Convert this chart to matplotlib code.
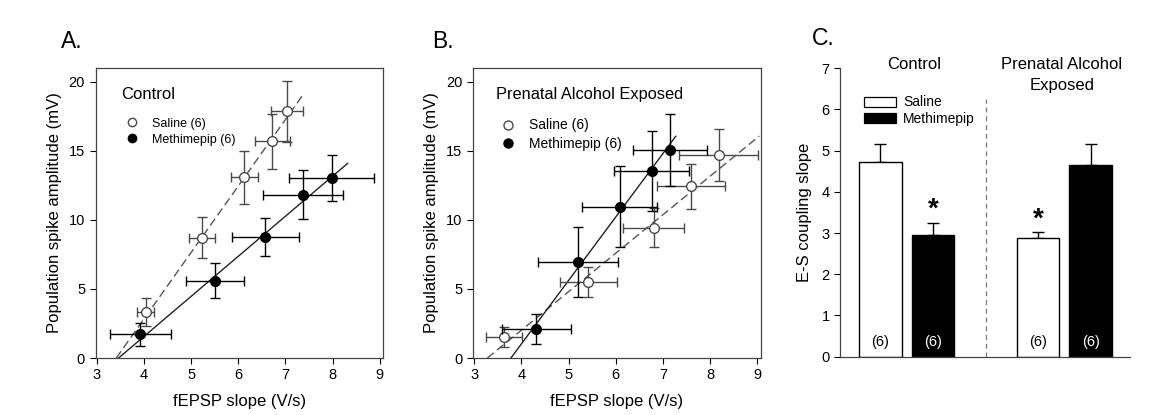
import numpy as np
import matplotlib
matplotlib.use("Agg")
import matplotlib.pyplot as plt
from matplotlib.lines import Line2D
from matplotlib.patches import Patch

plt.rcParams['font.family'] = ['Liberation Sans', 'DejaVu Sans']

# ---- panel A: control ----
a_sal_x = [4.04, 5.23, 6.13, 6.72, 7.04]
a_sal_y = [3.34, 8.72, 13.08, 15.69, 17.87]
a_sal_xerr = [0.18, 0.27, 0.28, 0.37, 0.34]
a_sal_yerr = [1.0, 1.5, 1.9, 2.0, 2.2]
a_met_x = [3.92, 5.51, 6.57, 7.38, 7.98]
a_met_y = [1.72, 5.59, 8.79, 11.82, 13.03]
a_met_xerr = [0.65, 0.62, 0.71, 0.85, 0.9]
a_met_yerr = [0.85, 1.27, 1.37, 1.78, 1.66]

# ---- panel B: prenatal alcohol exposed ----
b_sal_x = [3.64, 5.42, 6.80, 7.60, 8.18]
b_sal_y = [1.53, 5.52, 9.44, 12.42, 14.67]
b_sal_xerr = [0.38, 0.60, 0.65, 0.72, 0.83]
b_sal_yerr = [0.75, 1.1, 1.4, 1.6, 1.88]
b_met_x = [4.32, 5.20, 6.08, 6.76, 7.15]
b_met_y = [2.1, 6.97, 10.97, 13.56, 15.08]
b_met_xerr = [0.73, 0.85, 0.79, 0.80, 0.78]
b_met_yerr = [1.1, 2.55, 2.9, 2.9, 2.6]

# regression lines: x-intercept, slope, x where line ends
fit_a_sal = (3.41, 4.81, 7.35)
fit_a_met = (3.46, 2.90, 8.32)
fit_b_sal = (3.28, 2.79, 9.04)
fit_b_met = (3.78, 4.60, 7.27)

# ---- panel C: E-S coupling slope ----
bar_pos = [1, 2, 4, 5]
bar_vals = [4.73, 2.95, 2.87, 4.65]
bar_err = [0.44, 0.30, 0.15, 0.52]
bar_n = ['(6)', '(6)', '(6)', '(6)']
bar_colors = ['white', 'black', 'white', 'black']
signif = [False, True, True, False]

SAL = '#4a4a4a'
MET = 'black'

fig = plt.figure(figsize=(11.57, 4.15), dpi=100)
W, H = 1157, 415


def px_axes(l, t, r, b):
    return fig.add_axes([l / W, 1 - b / H, (r - l) / W, (b - t) / H])


def scatter_panel(ax, sx, sy, sxe, sye, mx, my, mxe, mye, fs, fm):
    for (x0, k, x1), ls, c in [(fs, '--', '#555555'), (fm, '-', '#222222')]:
        xs = np.array([x0, x1])
        ax.plot(xs, k * (xs - x0), ls=ls, color=c, lw=1.0, zorder=2,
                dashes=(6, 3) if ls == '--' else (None, None))
    ax.errorbar(sx, sy, xerr=sxe, yerr=sye, fmt='o', ms=7, mfc='white', mec=SAL,
                mew=1.0, ecolor=SAL, elinewidth=1.0, capsize=3.5, capthick=1.0, zorder=3)
    ax.errorbar(mx, my, xerr=mxe, yerr=mye, fmt='o', ms=7, mfc='black', mec='black',
                ecolor=MET, elinewidth=1.0, capsize=3.5, capthick=1.0, zorder=4)
    ax.set_xlim(2.97, 9.07)
    ax.set_ylim(0, 21)
    ax.set_xticks(range(3, 10))
    ax.set_yticks([0, 5, 10, 15, 20])
    ax.tick_params(direction='out', length=4, width=0.8, labelsize=10.5, top=False, right=False)
    for s in ax.spines.values():
        s.set_color('#444444')
        s.set_linewidth(0.9)
    ax.set_xlabel('fEPSP slope (V/s)', fontsize=12, labelpad=8)
    ax.set_ylabel('Population spike amplitude (mV)', fontsize=12, labelpad=5)


axA = px_axes(95.5, 68, 383, 358)
scatter_panel(axA, a_sal_x, a_sal_y, a_sal_xerr, a_sal_yerr,
              a_met_x, a_met_y, a_met_xerr, a_met_yerr, fit_a_sal, fit_a_met)
axA.text(0.09, 0.91, 'Control', transform=axA.transAxes, fontsize=12, va='center')
hA = [Line2D([], [], ls='none', marker='o', ms=6, mfc='white', mec=SAL),
      Line2D([], [], ls='none', marker='o', ms=6, mfc='black', mec='black')]
axA.legend(hA, ['Saline (6)', 'Methimepip (6)'], loc='upper left',
           bbox_to_anchor=(0.085, 0.85), frameon=False, fontsize=9,
           handlelength=1.0, handletextpad=1.1, labelspacing=0.3, borderpad=0)

axB = px_axes(472.7, 68, 760.7, 358)
scatter_panel(axB, b_sal_x, b_sal_y, b_sal_xerr, b_sal_yerr,
              b_met_x, b_met_y, b_met_xerr, b_met_yerr, fit_b_sal, fit_b_met)
axB.text(0.08, 0.91, 'Prenatal Alcohol Exposed', transform=axB.transAxes,
         fontsize=11.8, va='center')
hB = [Line2D([], [], ls='none', marker='o', ms=6.5, mfc='white', mec=SAL),
      Line2D([], [], ls='none', marker='o', ms=6.5, mfc='black', mec='black')]
axB.legend(hB, ['Saline (6)', 'Methimepip (6)'], loc='upper left',
           bbox_to_anchor=(0.075, 0.85), frameon=False, fontsize=10,
           handlelength=1.0, handletextpad=1.0, labelspacing=0.3, borderpad=0)

# ---- panel C ----
axC = px_axes(840, 68.3, 1130, 356.7)
for p, v, e, c in zip(bar_pos, bar_vals, bar_err, bar_colors):
    axC.bar(p, v, width=0.81, color=c, edgecolor='black', linewidth=1.0, zorder=2)
    axC.errorbar(p, v, yerr=[[0], [e]], fmt='none', ecolor='black',
                 elinewidth=1.0, capsize=4, capthick=1.0, zorder=1)
for p, v, e, n, c, s in zip(bar_pos, bar_vals, bar_err, bar_n, bar_colors, signif):
    axC.text(p, 0.36, n, ha='center', va='center', fontsize=10.5,
             color='white' if c == 'black' else 'black')
    if s:
        axC.text(p, v + e + 0.0, '*', ha='center', va='bottom', fontsize=20,
                 fontweight='bold')
axC.vlines(3, 0, 6.25, colors='#777777', linestyles=(0, (4, 3)), linewidth=0.9)
axC.text(1.65, 7.27, 'Control', ha='center', va='top', fontsize=12)
axC.text(4.45, 7.27, 'Prenatal Alcohol\nExposed', ha='center', va='top',
         fontsize=12, linespacing=1.5)
axC.set_xlim(0.23, 5.75)
axC.set_ylim(0, 7)
axC.set_xticks([])
axC.set_yticks(range(0, 8))
axC.tick_params(axis='y', direction='out', length=4, width=0.8, labelsize=10.5)
for s in ['top', 'right']:
    axC.spines[s].set_visible(False)
for s in ['left', 'bottom']:
    axC.spines[s].set_color('#444444')
    axC.spines[s].set_linewidth(0.9)
axC.set_ylabel('E-S coupling slope', fontsize=12, labelpad=7)
hC = [Patch(facecolor='white', edgecolor='black', linewidth=0.9),
      Patch(facecolor='black', edgecolor='black', linewidth=0.9)]
axC.legend(hC, ['Saline', 'Methimepip'], loc='upper left',
           bbox_to_anchor=(0.06, 0.93), frameon=False, fontsize=10,
           handlelength=2.3, handleheight=0.75, handletextpad=0.5,
           labelspacing=0.2, borderpad=0)

fig.text(61 / W, 1 - 48 / H, 'A.', fontsize=16.5, va='baseline')
fig.text(432 / W, 1 - 48 / H, 'B.', fontsize=16.5, va='baseline')
fig.text(812 / W, 1 - 45 / H, 'C.', fontsize=16.5, va='baseline')

fig.savefig('out.png', dpi=100)
